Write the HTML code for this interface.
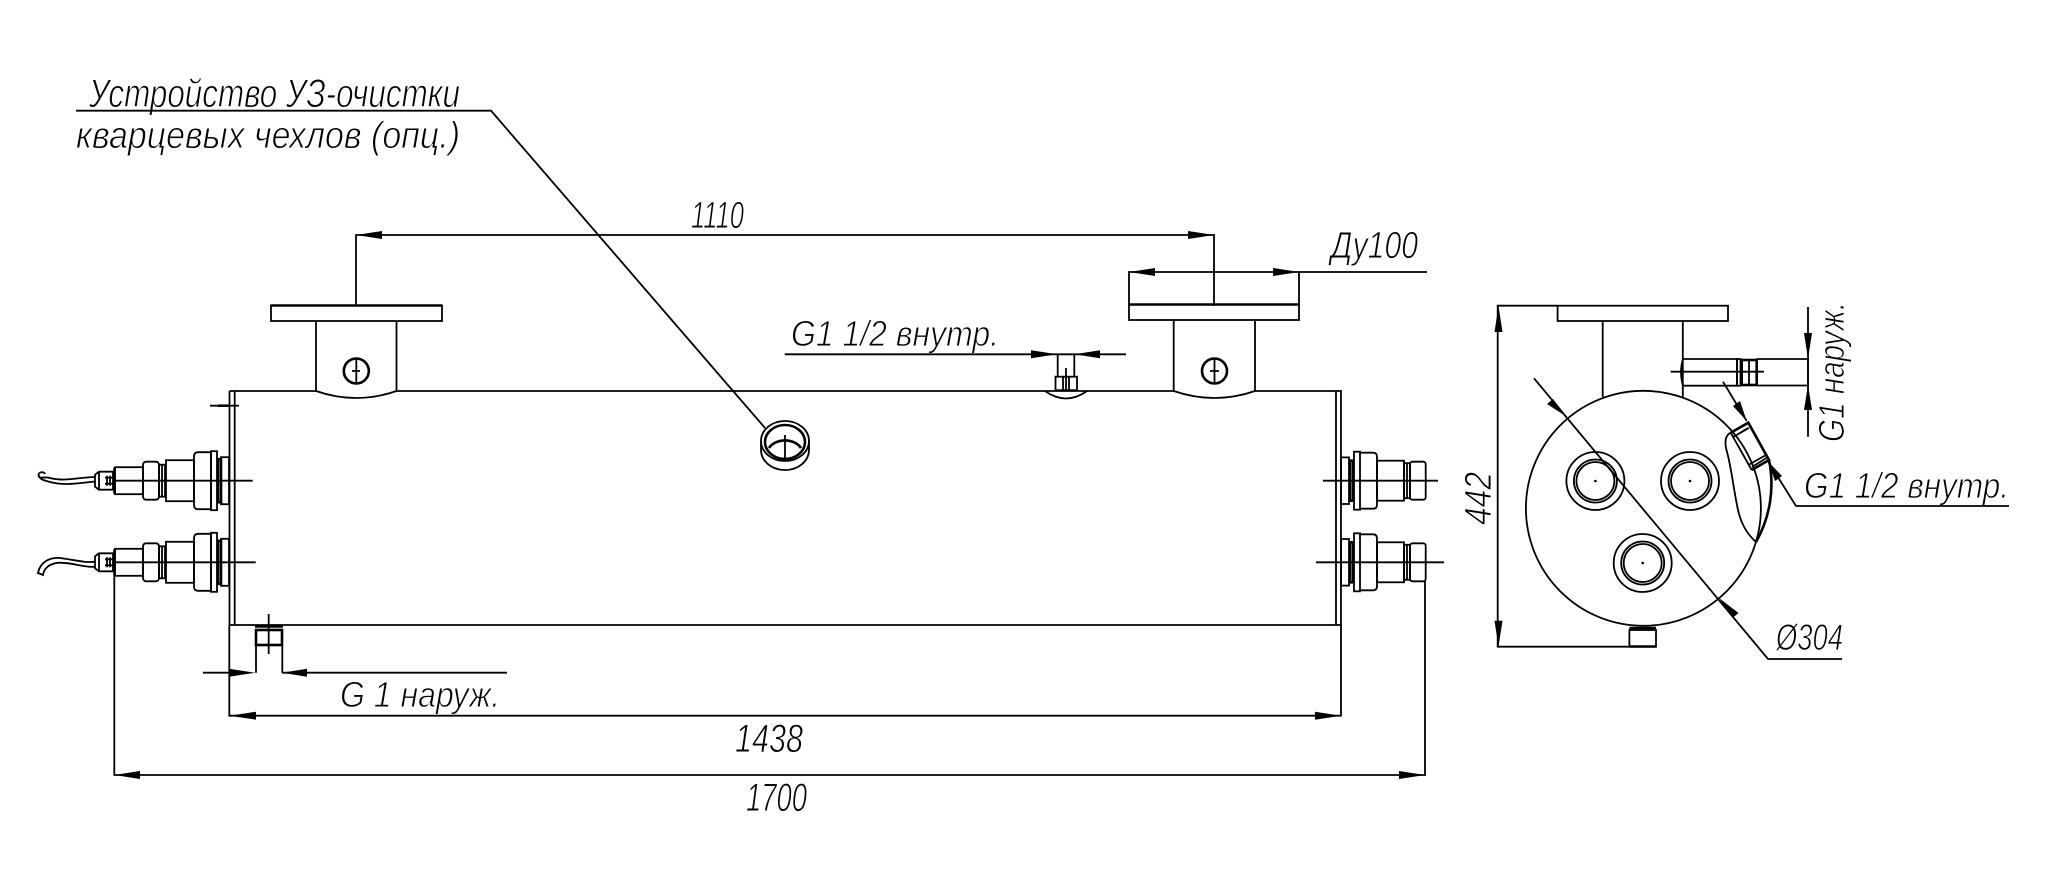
<!DOCTYPE html>
<html><head><meta charset="utf-8"><style>
html,body{margin:0;padding:0;background:#fff;width:2048px;height:890px;overflow:hidden}
svg{display:block}
text{font-family:"Liberation Sans",sans-serif;font-style:italic;fill:#000;stroke:#fff;stroke-width:.9px}
.l{fill:none;stroke:#000;stroke-width:1.8}
.t{fill:none;stroke:#000;stroke-width:2.6}
.a{fill:#000;stroke:none}
</style></head><body>
<svg width="2048" height="890" viewBox="0 0 2048 890" xmlns="http://www.w3.org/2000/svg">
<defs>
<g id="cl">
<path class="l" d="M95,-6L99,-9H113V9H99L95,6ZM99,-9V9M107,-5V5M110,-5V5M105,-3H113M105,3H113"/>
<rect class="l" x="115" y="-13.5" width="28" height="27"/><path class="t" d="M114.500,-13V13"/>
<rect class="l" x="143" y="-19" width="16" height="38" rx="3"/>
<rect class="l" x="159" y="-16" width="6" height="32"/><path class="l" d="M162,-16V16"/>
<rect class="l" x="166" y="-20.500" width="28" height="41"/>
<path class="l" d="M211,-28.500H198Q194,-28.500 194,-24V24Q194,28.500 198,28.500H211Z"/>
<rect class="l" x="211" y="-29.500" width="6" height="59"/>
<rect class="t" x="218" y="-21.500" width="3" height="43"/>
<rect class="l" x="221" y="-23.500" width="8" height="47"/>
</g>
<g id="cr">
<rect class="l" x="1341" y="-23.300" width="8" height="46.600"/>
<rect class="t" x="1350" y="-20" width="3" height="40"/>
<rect class="l" x="1354" y="-29" width="6" height="58"/>
<path class="l" d="M1360,-28H1373Q1377,-28 1377,-24V24Q1377,28 1373,28H1360"/>
<rect class="l" x="1377" y="-20" width="27" height="40"/>
<rect class="l" x="1404" y="-17.500" width="6" height="35"/><path class="l" d="M1407,-17V17"/>
<rect class="l" x="1410" y="-19" width="15.700" height="38" rx="2.500"/>
</g>
<g id="hole">
<circle class="l" r="29"/><circle class="l" r="21.500"/><circle class="l" r="19"/><circle class="a" r="1.300"/>
</g>
</defs>

<!-- labels -->
<text x="89" y="107" font-size="40" textLength="371" lengthAdjust="spacingAndGlyphs">Устройство УЗ-очистки</text>
<text x="76" y="148" font-size="38" textLength="384" lengthAdjust="spacingAndGlyphs">кварцевых чехлов (опц.)</text>
<text x="691" y="228" font-size="38" textLength="53" lengthAdjust="spacingAndGlyphs">1110</text>
<text x="1331" y="258" font-size="38" textLength="87" lengthAdjust="spacingAndGlyphs">Ду100</text>
<text x="791" y="346" font-size="36" textLength="208" lengthAdjust="spacingAndGlyphs">G1 1/2 внутр.</text>
<text x="340" y="707" font-size="36" textLength="160" lengthAdjust="spacingAndGlyphs">G 1 наруж.</text>
<text x="735" y="752" font-size="40" textLength="68" lengthAdjust="spacingAndGlyphs">1438</text>
<text x="746" y="811" font-size="40" textLength="61" lengthAdjust="spacingAndGlyphs">1700</text>
<text x="1804" y="498" font-size="36" textLength="205" lengthAdjust="spacingAndGlyphs">G1 1/2 внутр.</text>
<text x="1776" y="650" font-size="37" textLength="67" lengthAdjust="spacingAndGlyphs">Ø304</text>
<text transform="translate(1491,525) rotate(-90)" font-size="38" textLength="53" lengthAdjust="spacingAndGlyphs">442</text>
<text transform="translate(1844,442) rotate(-90)" font-size="36" textLength="140" lengthAdjust="spacingAndGlyphs">G1 наруж.</text>

<!-- main body -->
<path class="l" d="M229.500,391H316M396.500,391H1173.500M1255,391H1341V625H229.500V391M234.700,391V625M1336,391V625"/>
<path class="l" d="M210,405.700H239"/><path class="t" d="M218,405.700H230" stroke-width="3"/>

<!-- flanges -->
<rect class="l" x="271" y="305.500" width="171" height="15.500"/><path class="t" d="M271,305.500H442"/>
<path class="l" d="M316,321V391Q356,405 396.500,391V321"/>
<circle class="t" cx="356.300" cy="371" r="12.500" stroke-width="3"/>
<path class="l" d="M356.300,358V384M352,371H360"/>
<rect class="l" x="1129" y="304.500" width="170" height="15.500"/><path class="t" d="M1129,304.500H1299"/>
<path class="l" d="M1173.700,320V391Q1214.500,405 1255,391V320"/>
<circle class="t" cx="1214.500" cy="371" r="12.500" stroke-width="3"/>
<path class="l" d="M1214.500,358V384M1210,371H1219"/>

<!-- dim 1110 / Du100 -->
<path class="l" d="M356,306V235H1214V306"/>
<polygon class="a" points="356,235 382,231 382,239"/><polygon class="a" points="1214,235 1188,231 1188,239"/>
<path class="l" d="M1129,304V272H1427M1299,272V304"/>
<polygon class="a" points="1129,272 1155,268 1155,276"/><polygon class="a" points="1299,272 1273,268 1273,276"/>

<!-- leader -->
<path class="l" d="M76,110.700H491L765,428"/>
<g>
<ellipse class="l" cx="785" cy="441" rx="24" ry="20"/>
<path class="l" d="M761,441V450A24,20 0 0 0 809,450V441"/>
<ellipse class="t" cx="785" cy="442" rx="20" ry="17"/>
<path class="t" d="M769,448A18,14 0 0 1 801,448"/>
<path class="l" d="M785,435V459"/>
</g>

<!-- top fitting -->
<path class="l" d="M784.700,354.300H1126M1057.700,354V377M1074.300,354V377M1063,377V390M1069,377V390M1066,368V390"/>
<rect class="l" x="1055.500" y="376.700" width="21.500" height="13.500"/>
<polygon class="a" points="1057,354.300 1031,350.300 1031,358.300"/><polygon class="a" points="1074.600,354.300 1100,350.300 1100,358.300"/>
<path class="l" d="M1045,391Q1066,406 1087,391"/>

<!-- connectors left -->
<use href="#cl" x="0" y="480.700"/><use href="#cl" x="0" y="562.300"/>
<path class="l" d="M114,480.700H252.700M114,562.300H255.700"/>
<path class="l" d="M95,477C80,477 65,482 50,478C44,476 39,480 38.500,475C38.500,472 44,471 45,474M95,481.500C80,483 65,486 50,482C44,480 40,480 38.500,475" stroke-width="1.300"/>
<path class="l" d="M95,561.700C85,563 75,560 60,558C50,557 40,562 38,573L43,575C44,568 50,563 60,562.700C75,563 85,568 95,566.700" stroke-width="1.300"/>

<!-- connectors right -->
<use href="#cr" x="0" y="480.700"/><use href="#cr" x="0" y="562.300"/>
<path class="l" d="M1323,480.700H1438M1316,562.300H1444"/>

<!-- bottom fitting -->
<path class="t" d="M255,626.500H283" stroke-width="2"/>
<rect class="t" x="256" y="630" width="26" height="15" stroke-width="2.200"/>
<path class="l" d="M256,645V672.700M282.300,645V672.700M268.700,614V654"/>
<path class="l" d="M203,672.700H229M282,672.700H507"/>
<polygon class="a" points="255,672.700 229,668.700 229,676.700"/><polygon class="a" points="282,672.700 307,668.700 307,676.700"/>

<!-- overall dims -->
<path class="l" d="M229.300,625V715.700H1341V625"/>
<polygon class="a" points="229.300,715.700 256,711.700 256,719.700"/><polygon class="a" points="1341,715.700 1315,711.700 1315,719.700"/>
<path class="l" d="M114.300,575V775H1425V580"/>
<polygon class="a" points="114.300,775 140,771 140,779"/><polygon class="a" points="1425,775 1399,771 1399,779"/>

<!-- side view -->
<rect class="l" x="1557.600" y="305.700" width="170.400" height="15.300"/>
<path class="l" d="M1557,305.700H1497.700V646.700H1629"/>
<polygon class="a" points="1498.500,306 1494.500,332 1502.500,332"/><polygon class="a" points="1498.500,646.700 1494.500,620.700 1502.500,620.700"/>
<path class="l" d="M1602.700,321V397M1682.800,321V397"/>
<circle class="l" cx="1643.400" cy="508.300" r="117.500"/>
<path class="t" d="M1769,460A117.500,117.500 0 0 1 1756,542" stroke-width="2.400"/>
<use href="#hole" x="1595.400" y="481"/><use href="#hole" x="1690" y="481"/><use href="#hole" x="1642.700" y="563"/>
<path class="l" d="M1534,378.300L1768,659H1842"/>
<polygon class="a" points="1566.400,416.500 1547,404 1553,399"/>
<polygon class="a" points="1719,598 1738.500,613 1732.500,618"/>

<!-- bottom side fitting -->
<rect class="l" x="1629.400" y="630" width="26.600" height="16.700"/><path class="t" d="M1629.400,628H1656M1629.400,646.500H1656" stroke-width="2.200"/>

<!-- side pipe -->
<path class="l" d="M1683,359H1737V385.700H1683M1756.700,359H1808V385M1756.700,385.500H1808"/>
<path class="l" d="M1683,359Q1679,372 1683,385.700M1670.700,371.700H1764"/>
<rect class="l" x="1737" y="359" width="3.500" height="26.700"/>
<rect class="t" x="1741.700" y="360" width="15" height="25" stroke-width="2"/><path class="l" d="M1749,360V385"/>
<path class="l" d="M1808,307V436.700"/>
<polygon class="a" points="1808,359 1804,333 1812,333"/><polygon class="a" points="1808,385 1804,410 1812,410"/>

<!-- angled fitting -->
<path class="l" d="M1723,381.700L1746.700,421"/>
<polygon class="a" points="1746.700,421 1733,406 1740,401"/>
<path class="t" d="M1730.700,432.700L1748.300,422.700L1769,460L1751.700,470" stroke-width="2"/>
<path class="l" d="M1730.700,432.700L1751.700,470M1735,436L1748,428M1748.300,465L1766,455M1733,437L1749,428M1752,467L1768,457"/>
<path class="l" d="M1768.300,461.700L1796,506H2009"/>
<polygon class="a" points="1768.300,461.700 1782,476 1775,481"/>
<path class="l" d="M1730.700,432.700C1724,436 1725,445 1727,452C1731,466 1733,485 1737,505C1740,522 1746,533 1756,542"/>
</svg>
</body></html>
